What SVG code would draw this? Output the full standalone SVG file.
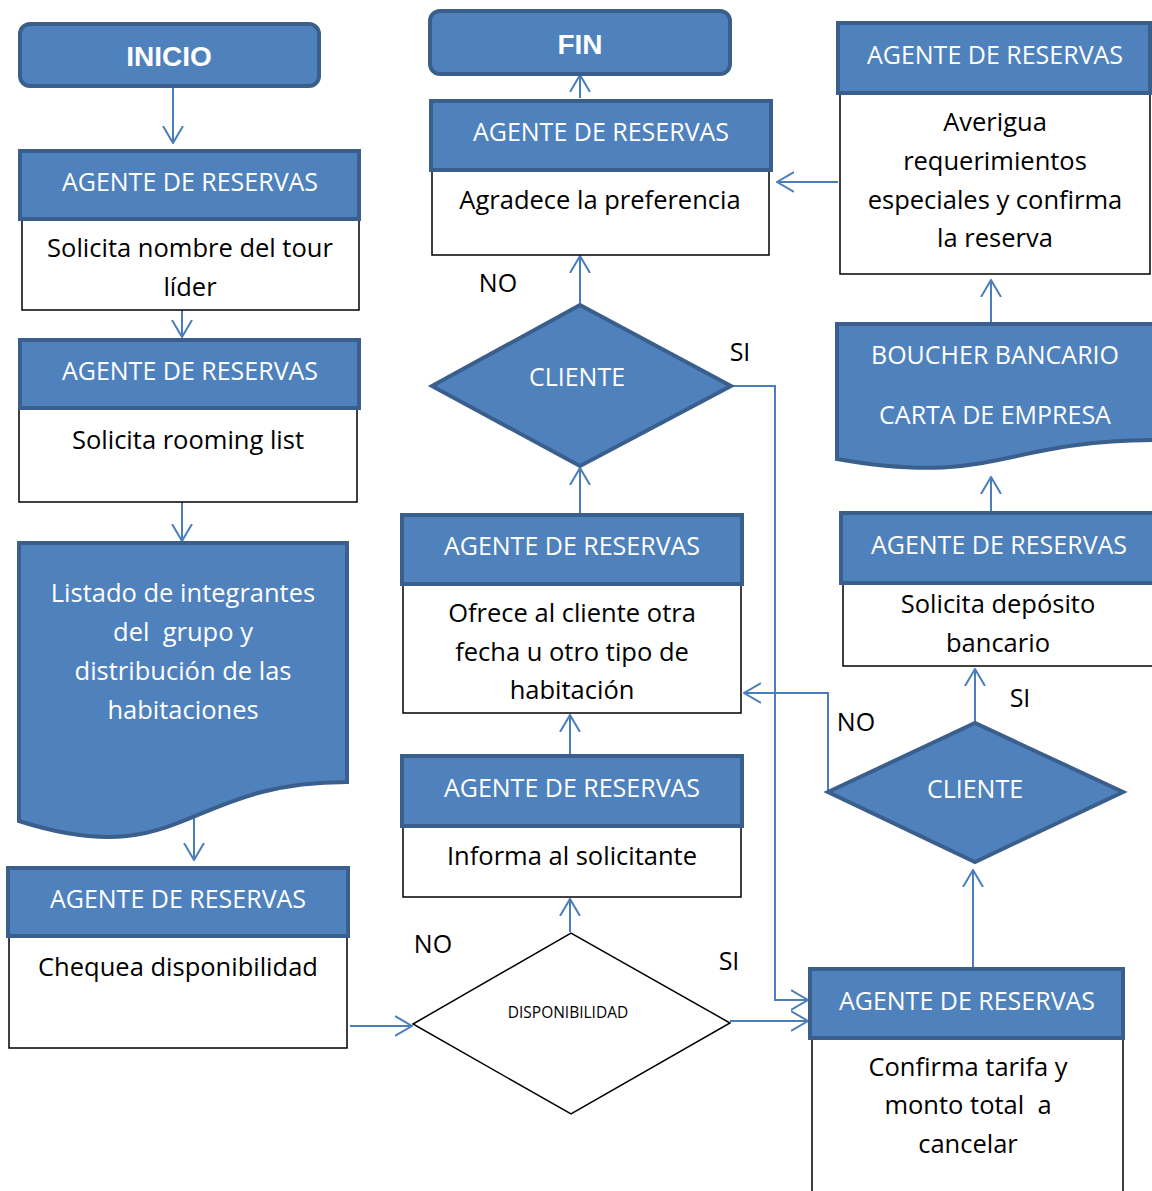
<svg xmlns="http://www.w3.org/2000/svg" width="1152" height="1191" viewBox="0 0 1152 1191">
  <style>
    .term { fill: #4f81bd; stroke: #3a5f8c; stroke-width: 4; }
    .head { fill: #4f81bd; stroke: #3a5f8c; stroke-width: 4; }
    .body { fill: #ffffff; stroke: #000000; stroke-width: 1.5; }
    .doc { fill: #4f81bd; stroke: #3a5f8c; stroke-width: 4; }
    .dia { fill: #4f81bd; stroke: #3a5f8c; stroke-width: 4; }
    .dia-w { fill: #ffffff; stroke: #000000; stroke-width: 1.5; }
    .conn { fill: none; stroke: #4a7ebb; stroke-width: 2; }
    text { font-family: "Open Sans", "Liberation Sans", Arial, sans-serif; text-anchor: middle; white-space: pre; }
    .tt { fill: #ffffff; font-size: 28px; font-weight: bold; font-family: "Liberation Sans", Arial, sans-serif; }
    .ht { fill: #ffffff; font-size: 25px; }
    .bt { fill: #000000; font-size: 25.5px; }
    .wt { fill: #ffffff; font-size: 25.5px; }
    .lbl { fill: #000000; font-size: 25px; }
    .small { fill: #000000; font-size: 15.5px; }
  </style>
  <defs>
    <marker id="arrow" viewBox="0 0 18 22" refX="17" refY="11" markerWidth="18" markerHeight="22" markerUnits="userSpaceOnUse" orient="auto">
      <path d="M0,1 L17,11 L0,21" fill="none" stroke="#4a7ebb" stroke-width="2"/>
    </marker>
  </defs>

  <rect width="1152" height="1191" fill="#ffffff"/>

  <!-- connectors -->
  <g id="connectors">
    <line class="conn" x1="173" y1="88" x2="173" y2="143" marker-end="url(#arrow)"/>
    <line class="conn" x1="182" y1="310" x2="182" y2="337" marker-end="url(#arrow)"/>
    <line class="conn" x1="182" y1="502" x2="182" y2="541" marker-end="url(#arrow)"/>
    <line class="conn" x1="194" y1="818" x2="194" y2="860" marker-end="url(#arrow)"/>
    <line class="conn" x1="350" y1="1026" x2="412" y2="1026" marker-end="url(#arrow)"/>
    <line class="conn" x1="570" y1="932" x2="570" y2="899" marker-end="url(#arrow)"/>
    <line class="conn" x1="570" y1="755" x2="570" y2="715" marker-end="url(#arrow)"/>
    <line class="conn" x1="580" y1="513" x2="580" y2="468" marker-end="url(#arrow)"/>
    <line class="conn" x1="580" y1="305" x2="580" y2="256" marker-end="url(#arrow)"/>
    <line class="conn" x1="580" y1="98" x2="580" y2="75" marker-end="url(#arrow)"/>
    <polyline class="conn" points="731,386 775,386 775,1000 808,1000" marker-end="url(#arrow)"/>
    <line class="conn" x1="730" y1="1021" x2="808" y2="1021" marker-end="url(#arrow)"/>
    <line class="conn" x1="838" y1="182" x2="777" y2="182" marker-end="url(#arrow)"/>
    <line class="conn" x1="991" y1="322" x2="991" y2="280" marker-end="url(#arrow)"/>
    <line class="conn" x1="991" y1="512" x2="991" y2="477" marker-end="url(#arrow)"/>
    <line class="conn" x1="975" y1="722" x2="975" y2="669" marker-end="url(#arrow)"/>
    <polyline class="conn" points="828,792 828,693 744,693" marker-end="url(#arrow)"/>
    <line class="conn" x1="973" y1="968" x2="973" y2="870" marker-end="url(#arrow)"/>
  </g>

  <!-- start -->
  <g id="inicio">
    <rect class="term" x="20" y="24" width="299" height="62" rx="10"/>
    <text class="tt" x="169" y="66">INICIO</text>
  </g>

  <!-- end -->
  <g id="fin">
    <rect class="term" x="430" y="11" width="300" height="63" rx="10"/>
    <text class="tt" x="580" y="54">FIN</text>
  </g>

  <g id="solicita-nombre">
    <rect class="body" x="22" y="219" width="337" height="91"/>
    <rect class="head" x="20" y="151" width="339" height="68"/>
    <text class="ht" x="190" y="191">AGENTE DE RESERVAS</text>
    <text class="bt" x="190" y="257">Solicita nombre del tour</text>
    <text class="bt" x="190" y="296">líder</text>
  </g>

  <g id="solicita-rooming">
    <rect class="body" x="19" y="408" width="338" height="94"/>
    <rect class="head" x="20" y="340" width="339" height="68"/>
    <text class="ht" x="190" y="380">AGENTE DE RESERVAS</text>
    <text class="bt" x="188" y="449">Solicita rooming list</text>
  </g>

  <g id="listado">
    <path class="doc" d="M19,543 H347 V782 C183,782 183,873 19,821 Z"/>
    <text class="wt" x="183" y="602">Listado de integrantes</text>
    <text class="wt" x="183" y="641">del  grupo y</text>
    <text class="wt" x="183" y="680">distribución de las</text>
    <text class="wt" x="183" y="719">habitaciones</text>
  </g>

  <g id="chequea">
    <rect class="body" x="9" y="936" width="338" height="112"/>
    <rect class="head" x="8" y="868" width="340" height="68"/>
    <text class="ht" x="178" y="908">AGENTE DE RESERVAS</text>
    <text class="bt" x="178" y="976">Chequea disponibilidad</text>
  </g>

  <g id="disponibilidad">
    <polygon class="dia-w" points="413,1024 571,933 730,1023 571,1114"/>
    <text class="small" x="568" y="1018">DISPONIBILIDAD</text>
    <text class="lbl" x="433" y="953">NO</text>
    <text class="lbl" x="729" y="970">SI</text>
  </g>

  <g id="informa">
    <rect class="body" x="403" y="826" width="338" height="71"/>
    <rect class="head" x="402" y="756" width="340" height="70"/>
    <text class="ht" x="572" y="797">AGENTE DE RESERVAS</text>
    <text class="bt" x="572" y="865">Informa al solicitante</text>
  </g>

  <g id="ofrece">
    <rect class="body" x="403" y="584" width="338" height="129"/>
    <rect class="head" x="402" y="515" width="340" height="69"/>
    <text class="ht" x="572" y="555">AGENTE DE RESERVAS</text>
    <text class="bt" x="572" y="622">Ofrece al cliente otra</text>
    <text class="bt" x="572" y="661">fecha u otro tipo de</text>
    <text class="bt" x="572" y="699">habitación</text>
  </g>

  <g id="cliente-1">
    <polygon class="dia" points="432,386 580,305 731,386 580,466"/>
    <text class="ht" x="577" y="386">CLIENTE</text>
    <text class="lbl" x="498" y="292">NO</text>
    <text class="lbl" x="740" y="361">SI</text>
  </g>

  <g id="agradece">
    <rect class="body" x="432" y="170" width="337" height="85"/>
    <rect class="head" x="431" y="101" width="340" height="69"/>
    <text class="ht" x="601" y="141">AGENTE DE RESERVAS</text>
    <text class="bt" x="600" y="209">Agradece la preferencia</text>
  </g>

  <g id="averigua">
    <rect class="body" x="840" y="93" width="310" height="181"/>
    <rect class="head" x="838" y="23" width="312" height="70"/>
    <text class="ht" x="995" y="64">AGENTE DE RESERVAS</text>
    <text class="bt" x="995" y="131">Averigua</text>
    <text class="bt" x="995" y="170">requerimientos</text>
    <text class="bt" x="995" y="209">especiales y confirma</text>
    <text class="bt" x="995" y="247">la reserva</text>
  </g>

  <g id="boucher">
    <path class="doc" d="M837,324 H1160 V440 C998,440 998,487 837,459 Z"/>
    <text class="ht" x="995" y="364">BOUCHER BANCARIO</text>
    <text class="ht" x="995" y="424">CARTA DE EMPRESA</text>
  </g>

  <g id="deposito">
    <rect class="body" x="843" y="583" width="312" height="83"/>
    <rect class="head" x="841" y="513" width="314" height="70"/>
    <text class="ht" x="999" y="554">AGENTE DE RESERVAS</text>
    <text class="bt" x="998" y="613">Solicita depósito</text>
    <text class="bt" x="998" y="652">bancario</text>
  </g>

  <g id="cliente-2">
    <polygon class="dia" points="828,792 975,723 1123,792 975,862"/>
    <text class="ht" x="975" y="798">CLIENTE</text>
    <text class="lbl" x="1020" y="707">SI</text>
    <text class="lbl" x="856" y="731">NO</text>
  </g>

  <g id="confirma">
    <rect class="body" x="812" y="1038" width="311" height="160"/>
    <rect class="head" x="810" y="969" width="313" height="69"/>
    <text class="ht" x="967" y="1010">AGENTE DE RESERVAS</text>
    <text class="bt" x="968" y="1076">Confirma tarifa y</text>
    <text class="bt" x="968" y="1114">monto total  a</text>
    <text class="bt" x="968" y="1153">cancelar</text>
  </g>
</svg>
